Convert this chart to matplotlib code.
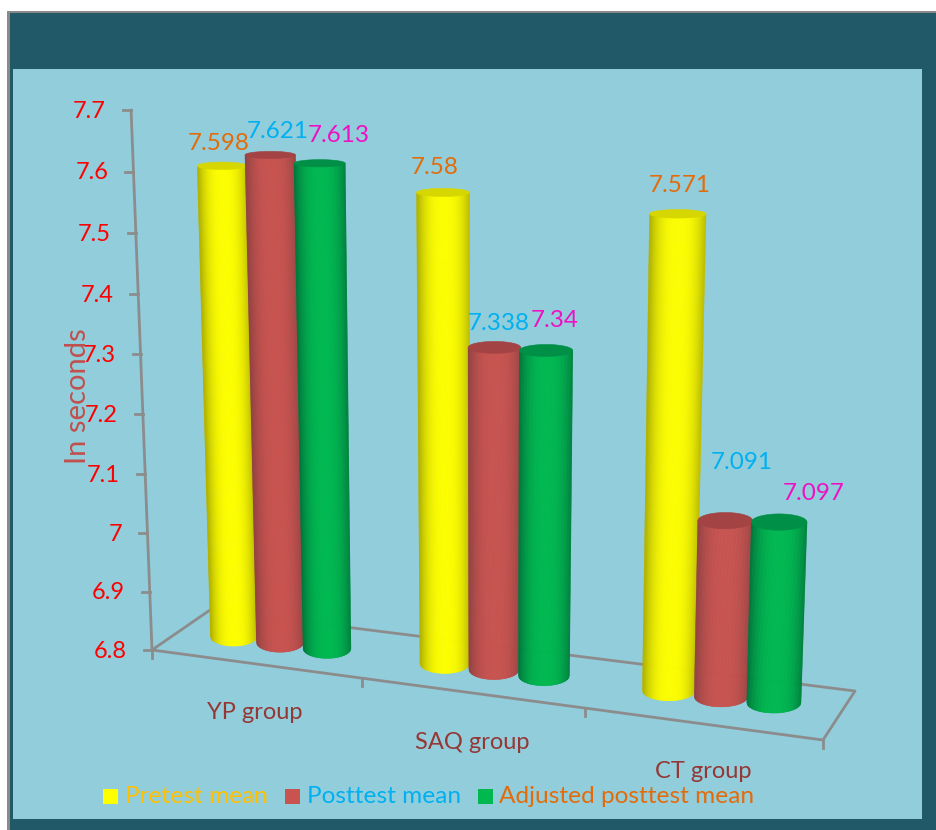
import numpy as np
import matplotlib
matplotlib.use('Agg')
import matplotlib.pyplot as plt
from matplotlib.collections import PolyCollection
from matplotlib.patches import Rectangle, Polygon
from matplotlib.colors import to_rgb

groups = ['YP group', 'SAQ group', 'CT group']
pretest = [7.598, 7.58, 7.571]
posttest = [7.621, 7.338, 7.091]
adjusted = [7.613, 7.34, 7.097]
series_names = ['Pretest mean', 'Posttest mean', 'Adjusted posttest mean']
value_ticks = [6.8, 6.9, 7, 7.1, 7.2, 7.3, 7.4, 7.5, 7.6, 7.7]

bar_colors = ['#ffff00', '#c9534f', '#00b850']
edge_colors = ['#b4b400', '#964242', '#007a3c']
cap_colors = ['#d6d600', '#a34343', '#008f47']
legend_text = ['#ffc000', '#00b0f0', '#e36c0a']
value_text = ['#e36c0a', '#00b0f0', '#f010c4']
axis_grey = '#8c8c8c'
BASE = 6.8

# label centres for the values, per series then per group
value_pos = [[(219, 143), (435, 168), (680, 185)],
             [(278, 132), (499, 323), (742, 462)],
             [(339, 136), (555, 320), (814, 493)]]
group_pos = [(255, 712), (472, 742), (703, 771)]

plt.rcParams['font.family'] = ['Lato', 'DejaVu Sans']

fig = plt.figure(figsize=(9.36, 8.30), dpi=100)
ax = fig.add_axes([0, 0, 1, 1])
ax.set_xlim(0, 936)
ax.set_ylim(830, 0)
ax.axis('off')


def value_axis(v):
    # point on the leaning value axis
    t = (v - BASE) * 10
    y = 650 - 58 * t - 0.22 * t ** 2
    return 152 - 21 * (650 - y) / 542, y


def cap_depth(y):
    # ellipses flatten towards the top of the picture
    return 3.5 + (y - 150) * 0.0125


def cylinder(u, value, idx):
    # u is the position along the floor, one unit per group
    bx = 280 + 207.5 * u + 6.5 * u ** 2
    by = 642.5 + 27 * u
    dv = value - BASE
    h = (566 + 14 * u) * dv * (1 + 0.06 * dv)
    tx = bx + (bx - 480) * h * 1.0e-4
    ty = by - h
    rb = 23.5 + 1.6 * u
    rt = rb * (1 + 1.5e-4 * h)
    db = cap_depth(by)
    dt = cap_depth(ty)

    c_edge = np.array(to_rgb(edge_colors[idx]))
    c_mid = np.array(to_rgb(bar_colors[idx]))
    s = np.linspace(-1, 1, 71)
    polys, cols = [], []
    for a, b in zip(s[:-1], s[1:]):
        polys.append([(tx + a * rt, ty), (tx + b * rt, ty),
                      (bx + b * rb, by + db * np.sqrt(1 - b ** 2)),
                      (bx + a * rb, by + db * np.sqrt(1 - a ** 2))])
        m = (a + b) / 2
        # shading falls off quickly near the cylinder edges
        k = np.clip(1 - abs(m - 0.05) ** 2.6, 0, 1)
        cols.append(c_edge + (c_mid - c_edge) * k)
    ax.add_collection(PolyCollection(polys, facecolors=cols, edgecolors=cols,
                                     linewidths=0.4, zorder=3))
    th = np.linspace(0, 2 * np.pi, 80)
    cap = np.column_stack([tx + rt * np.cos(th), ty + dt * np.sin(th)])
    ax.add_patch(Polygon(cap, closed=True, fc=cap_colors[idx], ec=cap_colors[idx],
                         lw=0.4, zorder=3))


# frame and plot area
ax.add_patch(Rectangle((7, 11), 929, 819, fc='#8a8a8a', ec='none', zorder=0))
ax.add_patch(Rectangle((10, 13), 926, 817, fc='#215968', ec='none', zorder=0))
ax.add_patch(Rectangle((13, 69), 909, 750, fc='#92cddc', ec='none', zorder=0))

# floor outline
floor_x = [152, 823, 855, 210, 152]
floor_y = [650, 740, 691, 610, 650]
ax.plot(floor_x, floor_y, color=axis_grey, lw=2, zorder=1)
for x in [152, 362, 585, 823]:
    y = 650 + (x - 152) * 90 / 671
    ax.plot([x, x], [y, y + 8], color=axis_grey, lw=2, zorder=1)

# value axis, ticks and labels
ax_low = value_axis(value_ticks[0])
ax_high = value_axis(value_ticks[-1])
ax.plot([ax_low[0], ax_high[0]], [ax_low[1], ax_high[1]], color=axis_grey, lw=2, zorder=1)
for v in value_ticks:
    x, y = value_axis(v)
    ax.plot([x - 8, x], [y, y], color=axis_grey, lw=2, zorder=1)
    ax.text(x - 25, y + 1, '%g' % v, color='#ff0000', fontsize=17,
            ha='right', va='center', zorder=5)

ax.text(78, 396, 'In seconds', color='#c0504d', fontsize=21, rotation=90,
        ha='center', va='center', zorder=5)

# cylinders, back to front within each group
series = [pretest, posttest, adjusted]
for i in range(len(groups)):
    for j in range(3):
        cylinder(i + (j - 1) * 0.225, series[j][i], j)

for j in range(3):
    for i in range(len(groups)):
        px, py = value_pos[j][i]
        ax.text(px, py, '%g' % series[j][i], color=value_text[j], fontsize=17.5,
                ha='center', va='center', zorder=6)

for name, (px, py) in zip(groups, group_pos):
    ax.text(px, py, name, color='#953735', fontsize=17, ha='center', va='center', zorder=5)

# legend
swatch_x = [103, 285, 478]
text_x = [125, 307, 499]
for j, name in enumerate(series_names):
    ax.add_patch(Rectangle((swatch_x[j], 789), 15, 15, fc=bar_colors[j], ec='none', zorder=5))
    ax.text(text_x[j], 796, name, color=legend_text[j], fontsize=17.6, ha='left', va='center', zorder=5)

fig.savefig('out.png', dpi=100, facecolor='white')
